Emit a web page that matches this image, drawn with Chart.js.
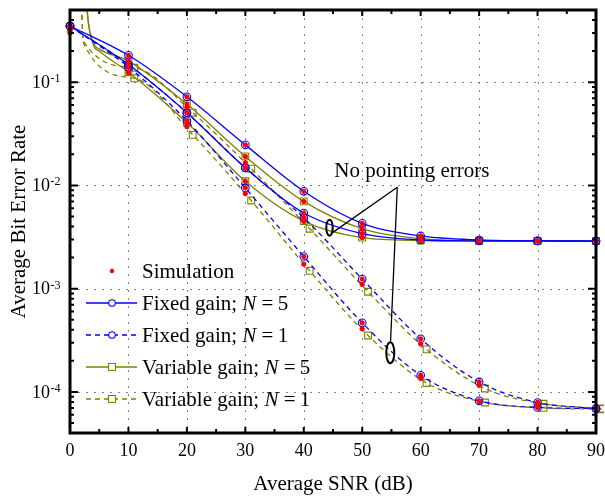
<!DOCTYPE html>
<html>
<head>
<meta charset="utf-8">
<script src="https://cdn.jsdelivr.net/npm/chart.js@4.4.1/dist/chart.umd.min.js"></script>
<style>
  html, body { margin: 0; padding: 0; background: #fff; }
</style>
</head>
<body>
<canvas id="berChart" width="605" height="496"></canvas>
<script>
// BER vs average SNR - fixed / variable gain relays, N = 5 and N = 1

// simulation points (every 10 dB)
const snr = [0, 10, 20, 30, 40, 50, 60, 70, 80, 90];

const simFixedN5PE = [0.35, 0.182, 0.0722, 0.0247, 0.00877, 0.00429, 0.00324, 0.00296, 0.0029, 0.00289];
const simFixedN5   = [0.35, 0.148, 0.0506, 0.0148, 0.0054, 0.00341, 0.00296, 0.0029, 0.0029, 0.00289];
const simVarN5PE   = [0.32, 0.16, 0.0614, 0.0191, 0.0070, 0.00381, 0.00305, 0.00292, 0.0029, 0.00289];
const simVarN5     = [0.31, 0.125, 0.0406, 0.01096, 0.00451, 0.00312, 0.00293, 0.0029, 0.0029, 0.00289];
const simFixedN1PE = [0.35, 0.148, 0.0506, 0.0148, 0.00486, 0.00124, 0.000327, 0.000125, 0.000079, 0.000069];
const simFixedN1   = [0.35, 0.14, 0.0423, 0.00946, 0.00205, 0.000467, 0.000145, 0.000082, 0.0000708, 0.000069];
const simVarN1PE   = [0.33, 0.157, 0.057, 0.0166, 0.0045, 0.0011, 0.000292, 0.000116, 0.000078, 0.000069];
const simVarN1     = [0.30, 0.123, 0.037, 0.00834, 0.00173, 0.000408, 0.000135, 0.000081, 0.000071, 0.000069];

// analytical curves
const fixedN5PE = [0.35, 0.182, 0.0722, 0.0247, 0.00877, 0.00429, 0.00324, 0.00296, 0.0029, 0.00289];
const fixedN5   = [0.35, 0.148, 0.0506, 0.0148, 0.0054, 0.00341, 0.00296, 0.0029, 0.0029, 0.00289];
const fixedN1PE = [0.35, 0.148, 0.0506, 0.0148, 0.00486, 0.00124, 0.000327, 0.000125, 0.000079, 0.000069];
const fixedN1   = [0.35, 0.14, 0.0423, 0.00946, 0.00205, 0.000467, 0.000145, 0.000082, 0.0000708, 0.000069];

const snrVarN5 = [2.8, 3, 4, 5, 10, 20, 30, 40, 50, 60, 70, 80, 90];
const varN5PE  = [0.7, 0.45, 0.24, 0.21, 0.16, 0.0614, 0.0191, 0.0070, 0.00381, 0.00305, 0.00292, 0.0029, 0.00289];
const varN5    = [0.7, 0.45, 0.23, 0.2, 0.125, 0.0406, 0.01096, 0.00451, 0.00312, 0.00293, 0.0029, 0.0029, 0.00289];

const snrVarN1 = [1.8, 2, 2.3, 11, 21, 31, 41, 51, 61, 71, 81, 91];
const varN1PE  = [1.0, 0.5, 0.25, 0.138, 0.0506, 0.01452, 0.00381, 0.000933, 0.000258, 0.000108, 0.0000767, 0.000069];
const varN1    = [1.0, 0.5, 0.24, 0.109, 0.0309, 0.00714, 0.00149, 0.000352, 0.000122, 0.000079, 0.00007, 0.000068];

const xTicks = [0, 10, 20, 30, 40, 50, 60, 70, 80, 90];
const yDecades = [-1, -2, -3, -4];

const legendLabels = ['Simulation', 'Fixed gain; ', 'Fixed gain; ', 'Variable gain; ', 'Variable gain; '];
const legendN = ['', '5', '1', '5', '1'];

// annotation anchors in data units
const noteText = { x: 58.5, y: 0.0136, label: 'No pointing errors' };
const noteApex = { x: 56.0, y: 0.0096 };
const noteRings = [
  { x: 44.4, y: 0.0039, end: { x: 44.8, y: 0.00345 }, rx: 3.2, ry: 8 },
  { x: 54.8, y: 0.00024, end: { x: 54.85, y: 0.00031 }, rx: 4, ry: 10.5 }
];

const BLUE = 'rgb(0,0,255)';
const OLIVE = 'rgb(128,128,0)';
const RED = 'rgb(255,0,0)';
const SERIF = '"Liberation Serif", "Times New Roman", serif';

function pts(xs, ys) {
  return xs.map((x, i) => ({ x: x, y: ys[i] }));
}

function curve(xs, ys, color, dashed, style, markAt) {
  return {
    data: pts(xs, ys),
    borderColor: color,
    borderWidth: 1.3,
    borderDash: dashed ? [5, 4] : [],
    cubicInterpolationMode: 'monotone',
    pointStyle: style,
    pointRadius: ctx => (ctx.raw && markAt(ctx.raw.x)) ? (style === 'rect' ? 4.8 : 3.8) : 0,
    pointBorderColor: color,
    pointBackgroundColor: 'rgba(255,255,255,0)',
    pointBorderWidth: 1.1,
    clip: { left: 6, top: 0, right: 8, bottom: 0 },
    order: 2
  };
}

function sims(ys) {
  return {
    data: pts(snr, ys),
    showLine: false,
    pointStyle: 'star',
    pointRadius: 2.6,
    pointBorderColor: RED,
    pointBorderWidth: 1.6,
    clip: { left: 6, top: 0, right: 8, bottom: 0 },
    order: 1
  };
}

const onTen = x => x % 10 === 0;
const onTenAfter = x => x % 10 === 0 && x >= 10;
const onOne = x => x % 10 === 1;

const datasets = [
  curve(snr, fixedN5PE, BLUE, false, 'circle', onTen),
  curve(snr, fixedN5, BLUE, false, 'circle', onTen),
  curve(snr, fixedN1PE, BLUE, true, 'circle', onTen),
  curve(snr, fixedN1, BLUE, true, 'circle', onTen),
  curve(snrVarN5, varN5PE, OLIVE, false, 'rect', onTenAfter),
  curve(snrVarN5, varN5, OLIVE, false, 'rect', onTenAfter),
  curve(snrVarN1, varN1PE, OLIVE, true, 'rect', onOne),
  curve(snrVarN1, varN1, OLIVE, true, 'rect', onOne),
  sims(simFixedN5PE), sims(simFixedN5), sims(simVarN5PE), sims(simVarN5),
  sims(simFixedN1PE), sims(simFixedN1), sims(simVarN1PE), sims(simVarN1)
];

// grid, frame, ticks, labels, legend and notes
const frame = {
  id: 'frame',
  beforeDatasetsDraw(chart) {
    const { ctx, chartArea: a, scales: { x, y } } = chart;
    ctx.save();
    ctx.strokeStyle = 'rgba(110,110,110,0.85)';
    ctx.lineWidth = 1;
    ctx.setLineDash([2, 6]);
    xTicks.slice(1, -1).forEach(v => {
      const px = Math.round(x.getPixelForValue(v)) + 0.5;
      ctx.beginPath(); ctx.moveTo(px, a.top); ctx.lineTo(px, a.bottom); ctx.stroke();
    });
    yDecades.forEach(d => {
      const py = Math.round(y.getPixelForValue(Math.pow(10, d))) + 0.5;
      ctx.beginPath(); ctx.moveTo(a.left, py); ctx.lineTo(a.right, py); ctx.stroke();
    });
    ctx.restore();
  },
  afterDatasetsDraw(chart) {
    const { ctx, chartArea: a, scales: { x, y } } = chart;
    ctx.save();
    ctx.strokeStyle = '#000';
    ctx.lineWidth = 2;
    // x ticks top and bottom
    for (let v = 0; v <= 90; v += 5) {
      const px = x.getPixelForValue(v);
      const len = v % 10 === 0 ? 6 : 4;
      ctx.beginPath();
      ctx.moveTo(px, a.bottom); ctx.lineTo(px, a.bottom - len);
      ctx.moveTo(px, a.top); ctx.lineTo(px, a.top + len);
      ctx.stroke();
    }
    // y ticks left and right
    for (let d = -5; d <= 0; d++) {
      for (let m = 1; m <= 9; m++) {
        const v = m * Math.pow(10, d);
        if (v < y.min || v > y.max) continue;
        const py = y.getPixelForValue(v);
        const len = m === 1 ? 8 : 4;
        ctx.beginPath();
        ctx.moveTo(a.left, py); ctx.lineTo(a.left + len, py);
        ctx.moveTo(a.right, py); ctx.lineTo(a.right - len, py);
        ctx.stroke();
      }
    }
    ctx.lineWidth = 3;
    ctx.strokeRect(a.left, a.top, a.right - a.left, a.bottom - a.top);

    // tick labels
    ctx.fillStyle = '#000';
    ctx.font = '18px ' + SERIF;
    ctx.textAlign = 'center';
    ctx.textBaseline = 'middle';
    xTicks.forEach(v => ctx.fillText(String(v), x.getPixelForValue(v), a.bottom + 18));
    yDecades.forEach(d => {
      const py = y.getPixelForValue(Math.pow(10, d));
      ctx.font = '18px ' + SERIF;
      ctx.textAlign = 'right';
      ctx.textBaseline = 'middle';
      ctx.fillText('10', 50, py + 1);
      ctx.font = '12px ' + SERIF;
      ctx.textAlign = 'left';
      ctx.textBaseline = 'alphabetic';
      ctx.fillText('-' + Math.abs(d), 50.5, py);
    });

    // axis titles
    ctx.font = '21px ' + SERIF;
    ctx.textAlign = 'center';
    ctx.textBaseline = 'middle';
    ctx.fillText('Average SNR (dB)', (a.left + a.right) / 2, 484);
    ctx.translate(19, (a.top + a.bottom) / 2);
    ctx.rotate(-Math.PI / 2);
    ctx.fillText('Average Bit Error Rate', 0, 0);
    ctx.restore();
  },
  afterDraw(chart) {
    const { ctx, scales: { x, y } } = chart;
    ctx.save();
    // annotation
    ctx.fillStyle = '#000';
    ctx.font = '21px ' + SERIF;
    ctx.textAlign = 'center';
    ctx.textBaseline = 'middle';
    ctx.fillText(noteText.label, x.getPixelForValue(noteText.x), y.getPixelForValue(noteText.y));
    const ax = x.getPixelForValue(noteApex.x), ay = y.getPixelForValue(noteApex.y);
    noteRings.forEach(r => {
      ctx.strokeStyle = '#000';
      ctx.lineWidth = 1.3;
      ctx.beginPath();
      ctx.moveTo(ax, ay);
      ctx.lineTo(x.getPixelForValue(r.end.x), y.getPixelForValue(r.end.y));
      ctx.stroke();
      ctx.lineWidth = 2;
      ctx.beginPath();
      ctx.ellipse(x.getPixelForValue(r.x), y.getPixelForValue(r.y), r.rx, r.ry, 0, 0, Math.PI * 2);
      ctx.stroke();
    });

    // legend
    const rows = [271, 303, 335, 367, 399];
    const colors = [RED, BLUE, BLUE, OLIVE, OLIVE];
    rows.forEach((ry, i) => {
      const c = colors[i];
      if (i > 0) {
        ctx.strokeStyle = c;
        ctx.lineWidth = 1.3;
        ctx.setLineDash(i % 2 === 0 ? [5, 4] : []);
        ctx.beginPath(); ctx.moveTo(86, ry); ctx.lineTo(137, ry); ctx.stroke();
        ctx.setLineDash([]);
        ctx.lineWidth = 1.1;
        ctx.fillStyle = '#fff';
        ctx.beginPath();
        if (i <= 2) ctx.arc(112, ry, 3.3, 0, Math.PI * 2);
        else ctx.rect(108.5, ry - 3.5, 7, 7);
        ctx.fill(); ctx.stroke();
      } else {
        ctx.strokeStyle = c;
        ctx.fillStyle = c;
        ctx.lineWidth = 1.4;
        Chart.helpers.drawPoint(ctx, { pointStyle: 'star', radius: 2.2, borderWidth: 1.4 }, 112, ry);
      }
      ctx.fillStyle = '#000';
      ctx.textAlign = 'left';
      ctx.textBaseline = 'middle';
      ctx.font = '21px ' + SERIF;
      let tx = 142;
      ctx.fillText(legendLabels[i], tx, ry + 1);
      if (legendN[i]) {
        tx += ctx.measureText(legendLabels[i]).width;
        ctx.font = 'italic 21px ' + SERIF;
        ctx.fillText('N', tx, ry + 1);
        tx += ctx.measureText('N').width;
        ctx.font = '21px ' + SERIF;
        ctx.fillText(' =\u2009' + legendN[i], tx, ry + 1);
      }
    });
    ctx.restore();
  }
};

new Chart(document.getElementById('berChart'), {
  type: 'line',
  data: { datasets: datasets },
  options: {
    responsive: false,
    animation: false,
    events: [],
    layout: { padding: { top: 10, right: 9, left: 0, bottom: 0 } },
    plugins: { legend: { display: false }, tooltip: { enabled: false } },
    scales: {
      x: {
        type: 'linear', min: 0, max: 90,
        ticks: { display: false, stepSize: 10 },
        grid: { display: false, drawTicks: false },
        border: { display: false },
        afterFit: s => { s.height = 63; }
      },
      y: {
        type: 'logarithmic', min: 0.00004, max: 0.5,
        ticks: { display: false },
        grid: { display: false, drawTicks: false },
        border: { display: false },
        afterFit: s => { s.width = 70; }
      }
    }
  },
  plugins: [frame]
});
</script>
</body>
</html>
